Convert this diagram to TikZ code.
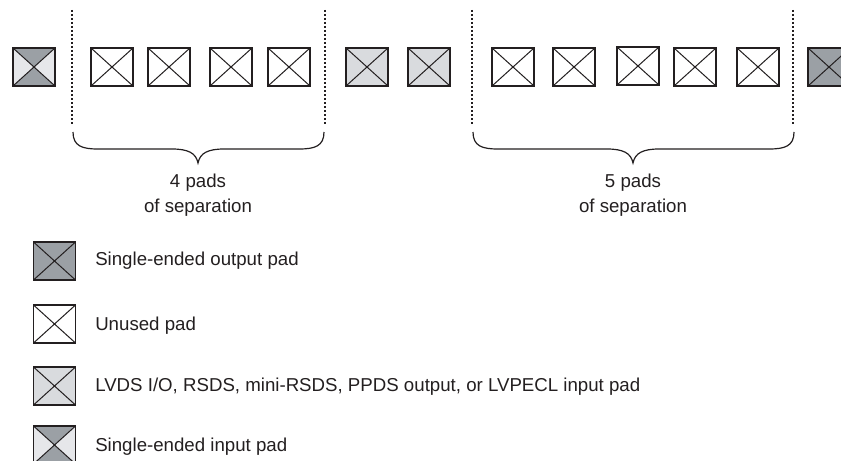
\documentclass[tikz,border=0pt]{standalone}
\usepackage{fontspec}
\setmainfont{Liberation Sans}
\definecolor{padline}{RGB}{35,31,32}
\definecolor{darkpad}{RGB}{155,160,165}
\definecolor{lvdspad}{RGB}{217,219,222}
\definecolor{inlight}{RGB}{230,231,234}
\tikzset{
  padbase/.style={draw=padline, line width=1.1pt, minimum width=31.5pt, minimum height=28.5pt, inner sep=0pt},
  xdiag/.style={path picture={
     \draw[padline, line width=0.75pt] (path picture bounding box.north west) -- (path picture bounding box.south east)
       (path picture bounding box.north east) -- (path picture bounding box.south west);}},
  unusedpad/.style={padbase, fill=white, xdiag},
  lvds/.style={padbase, fill=lvdspad, xdiag},
  outpad/.style={padbase, fill=darkpad, xdiag},
  inpad/.style={padbase, fill=inlight, path picture={
     \fill[darkpad] (path picture bounding box.north west) -- (path picture bounding box.center) -- (path picture bounding box.north east) -- cycle;
     \fill[darkpad] (path picture bounding box.south west) -- (path picture bounding box.center) -- (path picture bounding box.south east) -- cycle;
     \draw[padline, line width=0.75pt] (path picture bounding box.north west) -- (path picture bounding box.south east)
       (path picture bounding box.north east) -- (path picture bounding box.south west);}},
  sepline/.style={padline, line width=1.6pt, dash pattern=on 1.6pt off 1.4pt},
  bracepath/.style={padline, line width=0.9pt},
  lbl/.style={font=\fontsize{14}{19}\selectfont, text=padline, inner sep=0pt},
}
\begin{document}
\begin{tikzpicture}[x=0.75pt, y=-0.75pt]
\useasboundingbox (0,0) rectangle (841,460);
\clip (0,0) rectangle (841,460);
% top row of pads
\node[inpad]     (p1)  at (34,67) {};
\node[unusedpad] (p2)  at (112,67) {};
\node[unusedpad] (p3)  at (169,67) {};
\node[unusedpad] (p4)  at (231,67) {};
\node[unusedpad] (p5)  at (289,67) {};
\node[lvds]      (p6)  at (367,67) {};
\node[lvds]      (p7)  at (429,67) {};
\node[unusedpad] (p8)  at (513,67) {};
\node[unusedpad] (p9)  at (574,67) {};
\node[unusedpad] (p10) at (638,66) {};
\node[unusedpad] (p11) at (695,67) {};
\node[unusedpad] (p12) at (758,67) {};
\node[outpad]    (p13) at (829,67) {};
% dotted separators
\coordinate (d1t) at (72,10);  \coordinate (d1b) at (72,125);
\coordinate (d2t) at (325,10); \coordinate (d2b) at (325,125);
\coordinate (d3t) at (472,10); \coordinate (d3b) at (472,125);
\coordinate (d4t) at (793,10); \coordinate (d4b) at (793,125);
\draw[sepline] (d1t) -- (d1b);
\draw[sepline] (d2t) -- (d2b);
\draw[sepline] (d3t) -- (d3b);
\draw[sepline] (d4t) -- (d4b);
% braces
\draw[bracepath] (73,132) .. controls (73,146) and (82,149) .. (98,149) -- (172,149)
   .. controls (188,149) and (196,153) .. (198,163)
   .. controls (200,153) and (208,149) .. (224,149) -- (299,149)
   .. controls (315,149) and (324,146) .. (324,132);
\draw[bracepath] (473,132) .. controls (473,146) and (482,149) .. (498,149) -- (607,149)
   .. controls (623,149) and (631,153) .. (633,163)
   .. controls (635,153) and (643,149) .. (659,149) -- (769,149)
   .. controls (785,149) and (794,146) .. (794,132);
\node[lbl, align=center] (sep4) at (198,195) {4 pads\\of separation};
\node[lbl, align=center] (sep5) at (633,195) {5 pads\\of separation};
% legend
\node[outpad]    (l1) at (54.5,261) {};
\node[unusedpad] (l2) at (54.5,324) {};
\node[lvds]      (l3) at (54.5,386) {};
\node[inpad]     (l4) at (54.5,445) {};
\node[lbl, anchor=west] (t1) at (95,261) {Single-ended output pad};
\node[lbl, anchor=west] (t2) at (95,326) {Unused pad};
\node[lbl, anchor=west] (t3) at (95,387) {LVDS I/O, RSDS, mini-RSDS, PPDS output, or LVPECL input pad};
\node[lbl, anchor=west] (t4) at (95,447) {Single-ended input pad};
\end{tikzpicture}
\end{document}
